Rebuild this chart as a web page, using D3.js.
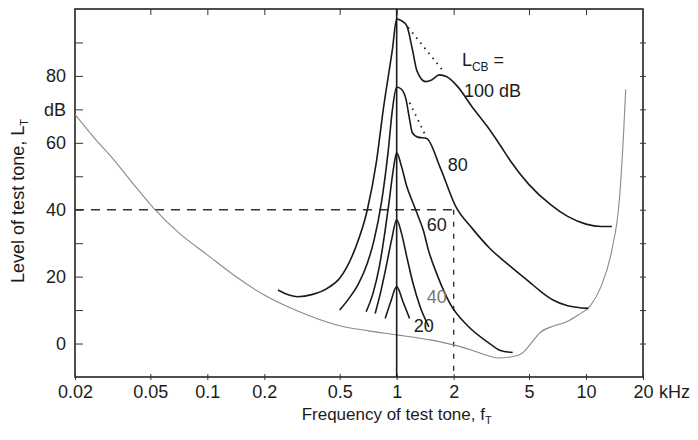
<!DOCTYPE html>
<html>
<head>
<meta charset="utf-8">
<script src="https://cdn.jsdelivr.net/npm/d3@7/dist/d3.min.js"></script>
<style>
  body { margin: 0; background: #fff; }
  text { font-family: "Liberation Sans", Arial, sans-serif; fill: #1c1c1c; }
</style>
</head>
<body>
<div id="chart"></div>
<script>
// threshold in quiet (thin grey line)
const quietFreq  = [0.02, 0.025, 0.032, 0.04, 0.052, 0.071, 0.1, 0.14, 0.2, 0.3, 0.5, 0.71, 1, 1.5, 2, 2.5, 3, 3.4, 4, 4.6, 5.2, 5.7, 6.7, 7.9, 9, 10.5, 12, 13.7, 15, 15.8, 16.2];
const quietLevel = [68.5, 61.8, 55, 48.2, 40.5, 33, 26.5, 20.2, 14.5, 9.7, 5.3, 3.8, 2.6, 1.1, -0.4, -2, -3.5, -4.3, -4, -2.9, 0.5, 3.2, 5.2, 6.5, 8.4, 11.2, 17, 28, 43, 63, 76];

// masked thresholds for 1 kHz critical-band noise, L_CB = 20..100 dB
const mask20Freq  = [0.87, 0.93, 1, 1.08, 1.17];
const mask20Level = [7.5, 12.5, 17, 12.5, 7.5];
const mask40Freq  = [0.77, 0.82, 0.88, 0.94, 1, 1.06, 1.13, 1.22, 1.33, 1.48];
const mask40Level = [9, 15, 23, 31, 37, 33, 26, 18, 11, 5];
const mask60Freq  = [0.69, 0.75, 0.81, 0.87, 0.91, 0.96, 1, 1.06, 1.13, 1.22, 1.3, 1.38, 1.47, 1.65, 1.91, 2.4, 3.1, 3.5, 4.1];
const mask60Level = [9.5, 15, 23, 34, 42, 52, 57, 53, 47, 42, 38, 34, 28, 20, 12, 5, 0, -2, -2.7];
const mask80Freq  = [0.5, 0.56, 0.63, 0.7, 0.76, 0.83, 0.9, 0.95, 1, 1.06, 1.12, 1.17, 1.21, 1.29, 1.44, 1.7, 2.05, 2.5, 3.1, 3.9, 5, 5.7, 6.7, 8, 10.3];
const mask80Level = [10, 13.5, 18, 24, 31, 42, 57, 70, 76.7, 76, 73, 67, 63, 61.7, 61.3, 52.5, 41, 34.5, 28.5, 23.5, 18.5, 15.8, 13, 11.3, 10.5];
const mask100Freq  = [0.236, 0.27, 0.3, 0.36, 0.43, 0.5, 0.6, 0.7, 0.78, 0.85, 0.95, 1, 1.06, 1.13, 1.21, 1.28, 1.42, 1.53, 1.68, 1.83, 2.1, 2.5, 3, 3.5, 4, 5, 6.5, 8, 10, 12, 13.7];
const mask100Level = [16, 14.5, 14, 14.7, 16.5, 19.5, 28, 40, 54, 70, 88, 97, 96.5, 95, 88, 81.5, 78.3, 78.8, 80.3, 79.8, 76.8, 70.8, 65, 59.5, 54.5, 47.5, 41.5, 38, 35.7, 35, 35];

// dotted continuations of the upper slopes
const dot100Freq  = [1.15, 1.73];
const dot100Level = [94.5, 82];
const dot80Freq   = [1.17, 1.44];
const dot80Level  = [72, 61.5];

// ticks
const freqTicks   = [0.02, 0.05, 0.1, 0.2, 0.5, 1, 2, 5, 10, 20];
const freqLabels  = ["0.02", "0.05", "0.1", "0.2", "0.5", "1", "2", "5", "10", "20"];
const levelTicks  = [0, 10, 20, 30, 40, 50, 60, 70, 80, 90];
const levelLabels = ["0", "", "20", "", "40", "", "60", "dB", "80", ""];

const W = 698, H = 440;
const svg = d3.select("#chart").append("svg")
    .attr("width", W)
    .attr("height", H);

const x = d3.scaleLog().domain([0.02, 20]).range([75, 643]);
const y = d3.scaleLinear().domain([-10, 100]).range([377, 9]);

const line = d3.line()
    .x(d => x(d[0]))
    .y(d => y(d[1]))
    .curve(d3.curveMonotoneX);
const zipped = (f, l) => f.map((v, i) => [v, l[i]]);

// frame
svg.append("rect")
    .attr("x", x(0.02)).attr("y", y(100))
    .attr("width", x(20) - x(0.02)).attr("height", y(-10) - y(100))
    .attr("fill", "none").attr("stroke", "#222").attr("stroke-width", 1.6);

// bottom axis: labels + small crosses
const axisB = svg.append("g")
    .attr("transform", `translate(0, ${y(-10)})`)
    .call(d3.axisBottom(x).tickValues(freqTicks).tickSize(0).tickPadding(8)
        .tickFormat((d, i) => freqLabels[i]));
axisB.select(".domain").remove();
axisB.selectAll(".tick line").attr("y1", -3).attr("y2", 3).attr("stroke", "#333");
axisB.selectAll("text").style("font-size", "18px");

svg.append("text")
    .attr("x", x(20) + 16).attr("y", y(-10) + 21)
    .style("font-size", "18px")
    .text("kHz");

// top axis: inward ticks
const axisT = svg.append("g")
    .attr("transform", `translate(0, ${y(100)})`)
    .call(d3.axisTop(x).tickValues(freqTicks.slice(1, -1)).tickSize(-6).tickFormat(""));
axisT.select(".domain").remove();
axisT.selectAll(".tick line").attr("stroke", "#333");

// left axis
const axisL = svg.append("g")
    .attr("transform", `translate(${x(0.02)}, 0)`)
    .call(d3.axisLeft(y).tickValues(levelTicks).tickSize(-8).tickPadding(9)
        .tickFormat((d, i) => levelLabels[i]));
axisL.select(".domain").remove();
axisL.selectAll(".tick line").attr("stroke", "#333");
axisL.selectAll("text").style("font-size", "18px");

// right axis: small crosses
const axisR = svg.append("g")
    .attr("transform", `translate(${x(20)}, 0)`)
    .call(d3.axisRight(y).tickValues(levelTicks).tickSize(0).tickFormat(""));
axisR.select(".domain").remove();
axisR.selectAll(".tick line").attr("x1", -3).attr("x2", 3).attr("stroke", "#333");

// axis titles
const yTitle = svg.append("text")
    .attr("transform", `translate(24, ${(y(0) + y(90)) / 2 + 8}) rotate(-90)`)
    .attr("text-anchor", "middle")
    .style("font-size", "18px");
yTitle.append("tspan").text("Level of test tone, L");
yTitle.append("tspan").attr("dy", 4).style("font-size", "11px").text("T");

const xTitle = svg.append("text")
    .attr("x", x(1)).attr("y", 420)
    .attr("text-anchor", "middle")
    .style("font-size", "17px");
xTitle.append("tspan").text("Frequency of test tone, f");
xTitle.append("tspan").attr("dy", 4).style("font-size", "11px").text("T");

// dashed guides: 40 dB tone at 2 kHz
svg.append("line")
    .attr("x1", x(0.02)).attr("x2", x(2))
    .attr("y1", y(40)).attr("y2", y(40))
    .attr("stroke", "#333").attr("stroke-width", 1.4)
    .attr("stroke-dasharray", "9,7");
svg.append("line")
    .attr("x1", x(2)).attr("x2", x(2))
    .attr("y1", y(40)).attr("y2", y(-10))
    .attr("stroke", "#333").attr("stroke-width", 1.4)
    .attr("stroke-dasharray", "5,7");

// threshold in quiet
svg.append("path")
    .attr("d", line(zipped(quietFreq, quietLevel)))
    .attr("fill", "none").attr("stroke", "#8a8a8a").attr("stroke-width", 1.1);

// 1 kHz masker line
svg.append("line")
    .attr("x1", x(1)).attr("x2", x(1))
    .attr("y1", y(-10)).attr("y2", y(100))
    .attr("stroke", "#1a1a1a").attr("stroke-width", 1.6);

// masking curves
[[mask20Freq, mask20Level], [mask40Freq, mask40Level], [mask60Freq, mask60Level],
 [mask80Freq, mask80Level], [mask100Freq, mask100Level]].forEach(([f, l]) => {
    svg.append("path")
        .attr("d", line(zipped(f, l)))
        .attr("fill", "none").attr("stroke", "#1a1a1a").attr("stroke-width", 1.6);
});

[[dot100Freq, dot100Level], [dot80Freq, dot80Level]].forEach(([f, l]) => {
    svg.append("path")
        .attr("d", d3.line().x(d => x(d[0])).y(d => y(d[1]))(zipped(f, l)))
        .attr("fill", "none").attr("stroke", "#1a1a1a").attr("stroke-width", 1.8)
        .attr("stroke-dasharray", "1.5,5");
});

// curve labels
const lcb = svg.append("text")
    .attr("x", x(2.21)).attr("y", y(83))
    .style("font-size", "18px");
lcb.append("tspan").text("L");
lcb.append("tspan").attr("dy", 5).style("font-size", "12px").text("CB");
lcb.append("tspan").attr("dy", -5).text(" =");

svg.append("text").attr("x", x(2.27)).attr("y", y(73.7))
    .style("font-size", "18px").text("100 dB");
svg.append("text").attr("x", x(2.1)).attr("y", y(51.5))
    .attr("text-anchor", "middle").style("font-size", "18px").text("80");
svg.append("text").attr("x", x(1.63)).attr("y", y(33.6))
    .attr("text-anchor", "middle").style("font-size", "18px").text("60");
svg.append("text").attr("x", x(1.63)).attr("y", y(12))
    .attr("text-anchor", "middle").style("font-size", "18px")
    .style("fill", "#777").text("40");
svg.append("text").attr("x", x(1.39)).attr("y", y(3.4))
    .attr("text-anchor", "middle").style("font-size", "18px").text("20");
</script>
</body>
</html>
